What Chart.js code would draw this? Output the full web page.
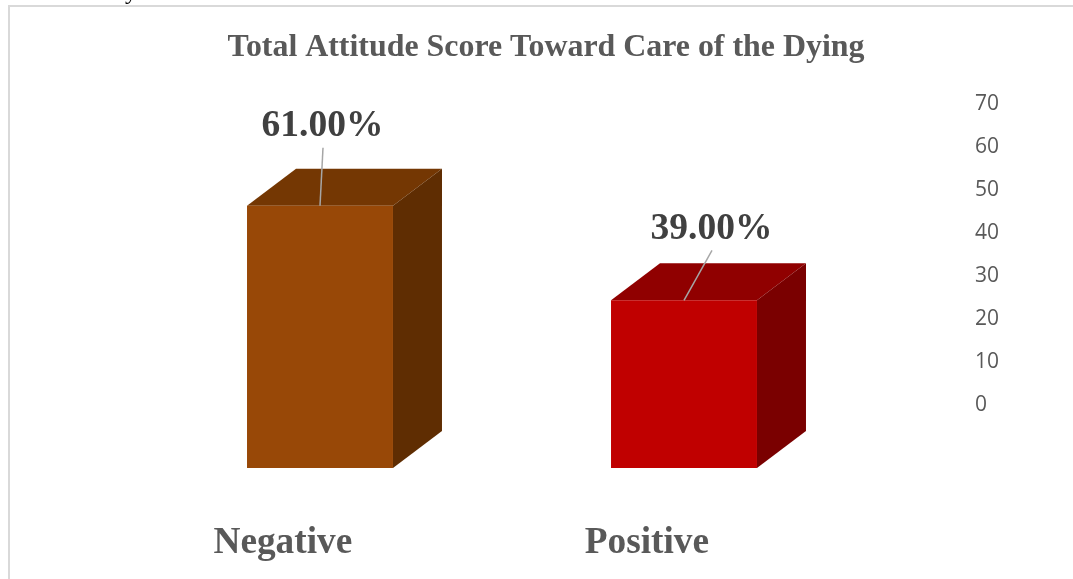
<!DOCTYPE html>
<html>
<head>
<meta charset="utf-8">
<script src="https://cdn.jsdelivr.net/npm/chart.js@4/dist/chart.umd.min.js"></script>
<style>
html,body{margin:0;padding:0;background:#fff;overflow:hidden;width:1073px;height:579px}
#wrap{position:absolute;left:0;top:0;width:1073px;height:579px}
#frame{position:absolute;left:8px;top:5px;right:-5px;bottom:-5px;border:2px solid #d9d9d9;pointer-events:none}
#stray{position:absolute;left:125px;top:-21px;font:24px "Liberation Serif",serif;color:#000;line-height:24px}
</style>
</head>
<body>
<div id="wrap">
<canvas id="c" width="1073" height="579"></canvas>
<div id="frame"></div>
<div id="stray">y</div>
</div>
<script>
const categories = ["Negative", "Positive"];
const values = [61, 39];
const valueLabels = ["61.00%", "39.00%"];
const yTicks = [0, 10, 20, 30, 40, 50, 60, 70];
const titleText = "Total Attitude Score Toward Care of the Dying";

const frontColors = ["#984807", "#c00000"];
const topColors = ["#743703", "#900000"];
const sideColors = ["#5f2d02", "#7a0000"];
const labelOffsets = [{x: 2.5, y: -79}, {x: 27.5, y: -71}];
const leaderEnd = [{x: 3, y: -58}, {x: 28, y: -50}];
const depth = {x: 49, y: -37};
const titleCenterX = 546;

function clearPadding(s) {
  s.paddingTop = 0; s.paddingBottom = 0; s.paddingLeft = 0; s.paddingRight = 0;
}

const bars3d = {
  id: "bars3d",
  afterLayout(chart) {
    const tb = chart.titleBlock;
    const half = (tb.right - tb.left) / 2;
    tb.left = titleCenterX - half;
    tb.right = titleCenterX + half;
  },
  beforeDatasetsDraw(chart) {
    const ctx = chart.ctx;
    chart.getDatasetMeta(0).data.forEach((b, i) => {
      const l = b.x - b.width / 2, r = b.x + b.width / 2, t = b.y, bt = b.base;
      ctx.save();
      ctx.fillStyle = topColors[i];
      ctx.beginPath();
      ctx.moveTo(l, t); ctx.lineTo(l + depth.x, t + depth.y);
      ctx.lineTo(r + depth.x, t + depth.y); ctx.lineTo(r, t);
      ctx.closePath(); ctx.fill();
      ctx.fillStyle = sideColors[i];
      ctx.beginPath();
      ctx.moveTo(r, t); ctx.lineTo(r + depth.x, t + depth.y);
      ctx.lineTo(r + depth.x, bt + depth.y); ctx.lineTo(r, bt);
      ctx.closePath(); ctx.fill();
      ctx.restore();
    });
  },
  afterDatasetsDraw(chart) {
    const ctx = chart.ctx;
    chart.getDatasetMeta(0).data.forEach((b, i) => {
      ctx.save();
      ctx.strokeStyle = "#a6a6a6";
      ctx.lineWidth = 1.5;
      ctx.beginPath();
      ctx.moveTo(b.x, b.y);
      ctx.lineTo(b.x + leaderEnd[i].x, b.y + leaderEnd[i].y);
      ctx.stroke();
      ctx.fillStyle = "#404040";
      ctx.font = 'bold 37.5px "Liberation Serif", serif';
      ctx.textAlign = "center";
      ctx.textBaseline = "middle";
      ctx.fillText(valueLabels[i], b.x + labelOffsets[i].x, b.y + labelOffsets[i].y);
      ctx.restore();
    });
  }
};

new Chart(document.getElementById("c"), {
  type: "bar",
  data: {
    labels: categories,
    datasets: [{
      data: values,
      xAxisID: "x",
      yAxisID: "y",
      backgroundColor: frontColors,
      barPercentage: 0.401,
      categoryPercentage: 1
    }]
  },
  plugins: [bars3d],
  options: {
    responsive: false,
    animation: false,
    layout: {padding: {left: 138, right: 0, top: 0, bottom: 0}},
    plugins: {
      legend: {display: false},
      tooltip: {enabled: false},
      title: {
        display: true,
        text: titleText,
        color: "#595959",
        font: {family: '"Liberation Serif", serif', size: 31.9, weight: "bold", lineHeight: 1.2},
        padding: {top: 29, bottom: 12.7}
      }
    },
    scales: {
      x: {display: false},
      y: {display: false, min: 0, max: 90.23},
      x2: {
        type: "linear",
        position: "bottom",
        axis: "x",
        offset: false,
        min: -0.398,
        max: 1.602,
        grid: {display: false, drawTicks: false, offset: false},
        border: {display: false},
        afterBuildTicks(s) { s.ticks = categories.map((_, i) => ({value: i})); },
        afterFit(s) { s.height = 111; clearPadding(s); },
        ticks: {
          autoSkip: false,
          maxRotation: 0,
          padding: 53,
          color: "#595959",
          font: {family: '"Liberation Serif", serif', size: 37.3, weight: "bold"},
          callback: v => categories[v]
        }
      },
      y2: {
        type: "linear",
        position: "right",
        axis: "y",
        min: -14.65,
        max: 75.58,
        grid: {display: false, drawTicks: false},
        border: {display: false},
        afterBuildTicks(s) { s.ticks = yTicks.map(v => ({value: v})); },
        afterFit(s) { s.width = 207; clearPadding(s); },
        ticks: {
          padding: 109,
          color: "#595959",
          font: {family: '"Open Sans", sans-serif', size: 21}
        }
      }
    }
  }
});
</script>
</body>
</html>
